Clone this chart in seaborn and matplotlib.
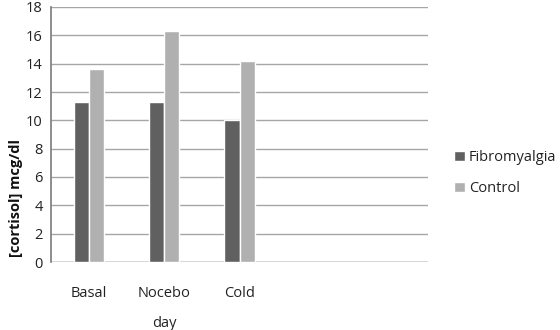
import matplotlib
matplotlib.use("Agg")
import matplotlib.pyplot as plt
import seaborn as sns
import pandas as pd

categories = ["Basal", "Nocebo", "Cold"]
fibromyalgia = [11.3, 11.3, 10.0]
control = [13.6, 16.3, 14.2]
series_names = ["Fibromyalgia", "Control"]
yticks = [0, 2, 4, 6, 8, 10, 12, 14, 16, 18]

sns.set_theme(style="white")
plt.rcParams['font.family'] = ['Open Sans', 'DejaVu Sans']

df = pd.DataFrame({
    "day": categories * 2,
    "value": fibromyalgia + control,
    "group": [series_names[0]] * 3 + [series_names[1]] * 3,
})

fig = plt.figure(figsize=(5.6, 3.3), dpi=100)
ax = fig.add_axes([51/560, (330-262)/330, (428-51)/560, (262-7)/330])

for y in yticks:
    ax.axhline(y, color="#a6a6a6", lw=1, zorder=0)
ax.axhline(0, color="#808080", lw=1, zorder=1)

sns.barplot(data=df, x="day", y="value", hue="group", order=categories,
            hue_order=series_names, palette=["#606060", "#b0b0b0"],
            width=0.4, saturation=1, ax=ax, zorder=2, legend=True)

ax.set_xlim(-0.5, 4.5)
ax.set_ylim(0, 18)
ax.set_yticks(yticks)
ax.tick_params(axis="both", length=0, labelsize=10.5, colors="#222222")
ax.tick_params(axis="x", pad=17)
ax.tick_params(axis="y", pad=6)
for s in ax.spines.values():
    s.set_visible(False)
ax.spines["left"].set_visible(True)
ax.spines["left"].set_color("#808080")

ax.set_xlabel("day", fontsize=10.5, color="#222222")
ax.xaxis.set_label_coords(0.3, -0.21)
ax.set_ylabel("[cortisol] mcg/dl", fontsize=10.5, fontweight="bold", color="#111111")
ax.yaxis.set_label_coords(-0.074, 0.25)

leg = ax.legend(loc="center left", bbox_to_anchor=(1.035, 0.35), frameon=False,
                fontsize=10.5, handlelength=0.7, handleheight=0.7, handletextpad=0.3,
                labelspacing=1.1)
for t in leg.get_texts():
    t.set_color("#222222")

fig.savefig("out.png", dpi=100)
